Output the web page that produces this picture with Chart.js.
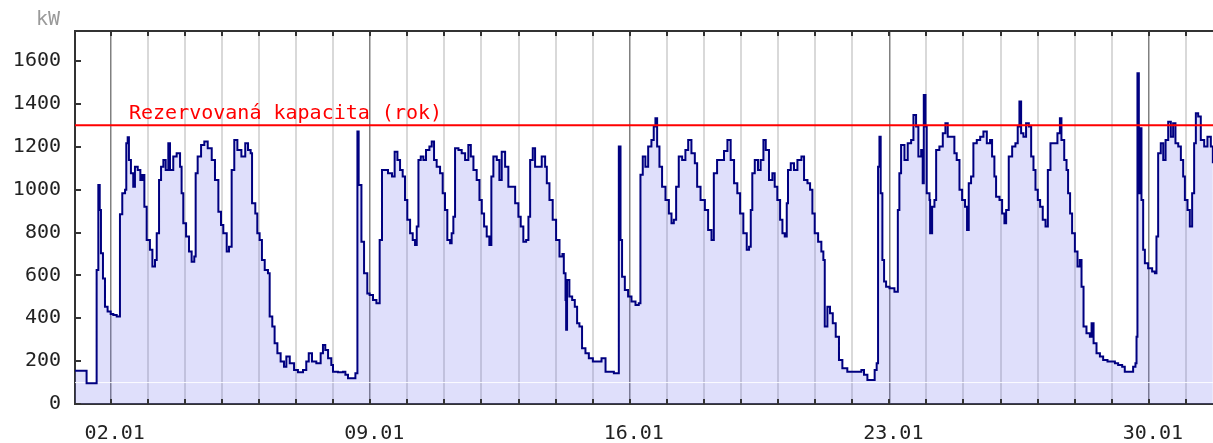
<!DOCTYPE html>
<html lang="cs">
<head>
<meta charset="UTF-8">
<title>Odběr kW - leden</title>
<script src="https://cdn.jsdelivr.net/npm/chart.js"></script>
<style>
  body { margin: 0; background: #fff; }
  #wrap { width: 1213px; height: 443px; }
</style>
</head>
<body>
<div id="wrap"><canvas id="loadChart"></canvas></div>
<script>
// hodiny od 01.01 00:00 a odebraný výkon v kW
const kwHours = [
  0.9, 8.4, 14.9, 16.0, 16.9, 17.7, 19.0, 20.3, 22.0, 24.0, 25.7, 27.9, 30.0, 31.5, 33.3, 34.1, 35.0, 35.8,
  37.1, 38.6, 39.7, 41.5, 43.2, 44.5, 45.8, 47.3, 49.4, 51.0, 52.7, 53.8, 55.3, 56.6, 58.1, 59.6, 61.3, 62.4,
  64.5, 66.7, 68.9, 69.9, 71.0, 72.8, 74.7, 76.4, 78.1, 79.0, 80.3, 82.5, 84.6, 86.8, 89.4, 91.5, 93.7, 95.4,
  96.9, 99.1, 100.6, 102.3, 104.0, 106.0, 108.6, 111.1, 112.9, 114.6, 115.5, 117.6, 118.9, 120.4, 121.9, 123.7,
  125.8, 126.9, 128.6, 130.1, 131.9, 134.0, 136.2, 137.7, 139.9, 142.7, 145.2, 148.5, 150.6, 152.2, 154.3, 157.1,
  159.9, 161.4, 162.9, 164.7, 166.8, 167.9, 171.1, 174.4, 175.9, 177.6, 180.2, 182.4, 183.7, 184.5, 186.3, 188.0,
  190.1, 191.6, 193.8, 196.0, 198.1, 199.6, 201.4, 203.5, 206.1, 207.8, 209.6, 211.3, 213.0, 214.5, 216.0, 217.8,
  219.5, 221.0, 222.1, 223.2, 224.7, 226.4, 228.1, 230.3, 231.8, 233.3, 235.0, 237.2, 238.9, 240.4, 241.9, 243.7,
  244.7, 245.8, 246.9, 249.1, 251.2, 253.4, 255.5, 257.1, 258.8, 260.9, 262.7, 264.2, 265.7, 267.4, 269.1, 270.4,
  271.7, 273.9, 275.6, 277.1, 279.3, 281.4, 283.6, 285.8, 287.9, 289.4, 291.1, 292.9, 294.4, 295.5, 297.2, 298.7,
  300.9, 303.0, 305.2, 306.3, 308.0, 310.1, 312.3, 314.5, 316.4, 317.3, 318.4, 318.8, 319.4, 320.9, 322.7, 324.4,
  325.9, 327.4, 329.1, 331.3, 333.5, 336.1, 338.9, 341.7, 344.3, 346.8, 349.7, 351.8, 352.9, 354.0, 355.0, 356.8,
  358.9, 361.1, 363.7, 365.8, 366.9, 368.4, 370.1, 371.9, 374.0, 375.5, 376.6, 377.7, 379.2, 380.9, 383.1, 385.3,
  387.0, 388.5, 390.0, 391.7, 393.9, 396.0, 397.8, 399.9, 402.1, 403.6, 405.8, 408.6, 410.7, 412.9, 414.4, 416.5,
  419.4, 421.0, 423.2, 425.3, 427.5, 429.6, 431.4, 433.5, 435.7, 437.2, 438.3, 439.3, 440.9, 443.0, 444.7, 446.5,
  448.0, 450.1, 452.3, 453.8, 455.5, 457.3, 458.8, 460.3, 461.6, 462.4, 464.2, 466.3, 468.5, 471.1, 472.8, 475.0,
  476.7, 478.2, 479.7, 481.9, 484.0, 485.3, 486.2, 487.9, 489.6, 491.4, 493.3, 495.4, 497.6, 500.8, 504.1, 507.3,
  509.9, 511.6, 513.8, 517.0, 518.5, 519.8, 520.7, 521.6, 522.4, 523.5, 524.6, 525.9, 528.1, 531.3, 533.5, 534.5,
  535.6, 537.8, 539.9, 542.1, 543.6, 545.3, 546.8, 548.6, 549.6, 550.3, 551.4, 552.2, 554.0, 554.4, 555.7, 557.2,
  558.3, 560.4, 562.6, 564.3, 565.8, 568.0, 570.1, 571.6, 573.4, 575.1, 577.0, 578.3, 579.4, 580.9, 582.4, 584.6,
  586.8, 588.9, 591.1, 593.2, 594.5, 596.0, 597.1, 599.3, 601.0, 602.5, 603.6, 605.3, 607.5, 609.6, 611.1, 612.2,
  613.3, 614.8, 616.5, 618.3, 619.8, 621.3, 622.6, 624.1, 625.6, 627.3, 629.1, 630.6, 632.3, 634.7, 636.8, 638.4,
  639.4, 641.2, 642.7, 643.7, 645.0, 646.3, 648.1, 649.8, 651.3, 652.4, 653.7, 655.6, 657.8, 658.9, 660.2, 662.1,
  664.3, 666.4, 669.2, 671.8, 674.0, 676.1, 678.7, 680.4, 683.7, 685.8, 687.3, 688.0, 688.6, 689.5, 690.4, 691.2,
  692.3, 693.4, 695.5, 698.1, 699.9, 700.9, 702.0, 703.7, 705.3, 706.8, 708.5, 710.2, 711.7, 713.2, 715.0, 716.7,
  718.2, 719.3, 721.0, 722.5, 724.0, 725.3, 726.4, 727.9, 729.6, 731.8, 733.9, 736.1, 737.4
];
const kwValues = [
  155, 97, 625, 1022, 905, 703, 586, 454, 431, 420, 415, 408, 885, 983, 1000, 1216, 1244, 1138,
  1076, 1014, 1107, 1092, 1045, 1068, 920, 765, 719, 641, 672, 796, 1045, 1107, 1138, 1092, 1216, 1092,
  1154, 1170, 1107, 983, 843, 781, 711, 664, 688, 1076, 1154, 1208, 1224, 1193, 1138, 1045, 897, 835,
  796, 711, 734, 1092, 1232, 1185, 1154, 1216, 1185, 1170, 936, 889, 796, 765, 672, 625,
  610, 408, 361, 283, 237, 198, 174, 221, 190, 159, 148, 159, 198, 237, 198, 190,
  237, 275, 252, 213, 182, 151, 148, 151, 136, 120, 120, 143, 1271, 1022, 757, 610,
  516, 509, 485, 470, 765, 1092, 1092, 1076, 1061, 1177, 1138, 1092, 1061, 952, 859, 796,
  765, 742, 828, 1138, 1154, 1138, 1185, 1201, 1224, 1138, 1107, 1076, 983, 905, 765, 750,
  796, 874, 1193, 1185, 1170, 1138, 1208, 1154, 1092, 1045, 952, 889, 828, 781, 742, 1061,
  1154, 1138, 1045, 1177, 1107, 1014, 1014, 936, 874, 828, 757, 765, 874, 1138, 1193, 1107,
  1107, 1154, 1107, 1030, 952, 859, 765, 688, 700, 610, 485, 346, 578, 501, 485, 454,
  377, 361, 260, 237, 213, 198, 198, 213, 151, 151, 143, 143, 1201, 765, 594, 532,
  501, 478, 462, 470, 1069, 1154, 1107, 1201, 1232, 1294, 1333, 1201, 1107, 1014, 952, 889,
  843, 859, 1014, 1154, 1138, 1185, 1232, 1170, 1123, 1014, 952, 905, 812, 765, 1076, 1138,
  1138, 1180, 1232, 1138, 1030, 983, 889, 796, 719, 734, 905, 1076, 1138, 1092, 1138, 1232,
  1185, 1045, 1076, 1014, 952, 859, 796, 781, 936, 1092, 1123, 1092, 1138, 1154, 1045, 1030,
  999, 889, 796, 757, 711, 672, 361, 454, 423, 377, 314, 205, 167, 151, 151, 151,
  159, 136, 112, 112, 159, 190, 1107, 1247, 983, 672, 571, 547, 540, 524, 905, 1076,
  1208, 1138, 1216, 1232, 1348, 1294, 1154, 1185, 1030, 1442, 1294, 983, 952, 796, 920, 952,
  1185, 1201, 1263, 1310, 1247, 1247, 1170, 1138, 999, 952, 920, 812, 1030, 1061, 1216, 1232,
  1247, 1271, 1216, 1232, 1154, 1061, 967, 952, 889, 843, 905, 1154, 1201, 1216, 1294, 1411,
  1263, 1247, 1310, 1294, 1154, 1092, 999, 952, 920, 859, 828, 1092, 1216, 1216, 1263, 1333,
  1232, 1138, 1092, 983, 889, 796, 711, 641, 672, 547, 361, 330, 314, 377, 283, 237,
  221, 205, 198, 198, 190, 182, 174, 151, 151, 174, 190, 314, 1543, 983, 1286, 952,
  719, 656, 633, 618, 610, 781, 1170, 1216, 1138, 1232, 1317, 1247, 1310, 1216, 1201, 1138,
  1061, 952, 905, 828, 983, 1216, 1356, 1341, 1232, 1201, 1247, 1201, 1123
];

// popisky osy x (týdenní) a jejich poloha v hodinách
const weekLabels = ['02.01', '09.01', '16.01', '23.01', '30.01'];
const weekHours = [24, 192, 360, 528, 696];
const yTickValues = [0, 200, 400, 600, 800, 1000, 1200, 1400, 1600];

const capacityKw = 1300;
const capacityLabel = 'Rezervovaná kapacita (rok)';
const baseKw = 100;
const unitLabel = 'kW';

const xMin = 0.9, xMax = 737.5;
const dayHours = [];
for (let h = 24; h < xMax; h += 24) dayHours.push(h);

const monoFont = '"DejaVu Sans Mono", monospace';

const points = kwHours.map((h, i) => ({ x: h, y: kwValues[i] }));
const flat = v => [{ x: xMin, y: v }, { x: xMax, y: v }];

const framePlugin = {
  id: 'frame',
  afterDatasetsDraw(chart) {
    const { ctx, chartArea: a, scales: { x, y } } = chart;
    ctx.save();
    ctx.strokeStyle = '#333';
    ctx.lineWidth = 2;
    ctx.beginPath();
    ctx.moveTo(a.left, a.top);
    ctx.lineTo(a.right, a.top);
    ctx.stroke();
    // drobné značky dovnitř grafu
    ctx.beginPath();
    dayHours.forEach(h => {
      const px = Math.round(x.getPixelForValue(h));
      ctx.moveTo(px, a.top);
      ctx.lineTo(px, a.top + 5);
      ctx.moveTo(px, a.bottom);
      ctx.lineTo(px, a.bottom - 5);
    });
    yTickValues.forEach(v => {
      const py = Math.round(y.getPixelForValue(v));
      ctx.moveTo(a.left, py);
      ctx.lineTo(a.left + 6, py);
    });
    ctx.stroke();

    ctx.font = '20px ' + monoFont;
    ctx.fillStyle = '#9a9a9a';
    ctx.textAlign = 'right';
    ctx.textBaseline = 'middle';
    ctx.fillText(unitLabel, a.left - 15, 20);

    ctx.fillStyle = '#ff0000';
    ctx.textAlign = 'left';
    ctx.textBaseline = 'alphabetic';
    ctx.fillText(capacityLabel, a.left + 54, y.getPixelForValue(capacityKw) - 6);
    ctx.restore();
  }
};

new Chart(document.getElementById('loadChart'), {
  type: 'line',
  data: {
    datasets: [
      {
        data: flat(capacityKw),
        borderColor: '#ff0000',
        borderWidth: 2,
        pointRadius: 0,
        fill: false,
        order: 0
      },
      {
        data: points,
        stepped: 'before',
        borderColor: '#000080',
        borderWidth: 2,
        backgroundColor: 'rgba(110, 110, 235, 0.22)',
        pointRadius: 0,
        fill: 'origin',
        order: 1
      },
      {
        data: flat(baseKw),
        borderColor: 'rgba(255, 255, 255, 0.9)',
        borderWidth: 1,
        pointRadius: 0,
        fill: false,
        order: 2
      }
    ]
  },
  plugins: [framePlugin],
  options: {
    responsive: true,
    maintainAspectRatio: false,
    animation: false,
    layout: { padding: { top: 31, right: 0, left: 0, bottom: 0 } },
    plugins: {
      legend: { display: false },
      tooltip: { enabled: false },
      filler: { drawTime: 'beforeDatasetsDraw' }
    },
    scales: {
      x: {
        type: 'linear',
        min: xMin,
        max: xMax,
        afterBuildTicks: s => { s.ticks = dayHours.map(v => ({ value: v })); },
        afterFit: s => { s.height = 39; },
        grid: {
          drawTicks: false,
          color: c => weekHours.includes(c.tick.value) ? '#808080' : '#d9d9d9',
          lineWidth: c => weekHours.includes(c.tick.value) ? 1.5 : 2
        },
        border: { display: true, color: '#333', width: 2 },
        ticks: {
          autoSkip: false,
          maxRotation: 0,
          padding: 18,
          labelOffset: 4,
          color: '#222',
          font: { family: monoFont, size: 20 },
          callback: v => {
            const i = weekHours.indexOf(v);
            return i >= 0 ? weekLabels[i] : '';
          }
        }
      },
      y: {
        min: 0,
        max: 1740,
        afterBuildTicks: s => { s.ticks = yTickValues.map(v => ({ value: v })); },
        afterFit: s => { s.width = 75; },
        grid: { display: false, drawTicks: false },
        border: { display: true, color: '#333', width: 2 },
        ticks: {
          padding: 14,
          color: '#222',
          font: { family: monoFont, size: 20 },
          callback: v => String(v)
        }
      }
    }
  }
});
</script>
</body>
</html>
